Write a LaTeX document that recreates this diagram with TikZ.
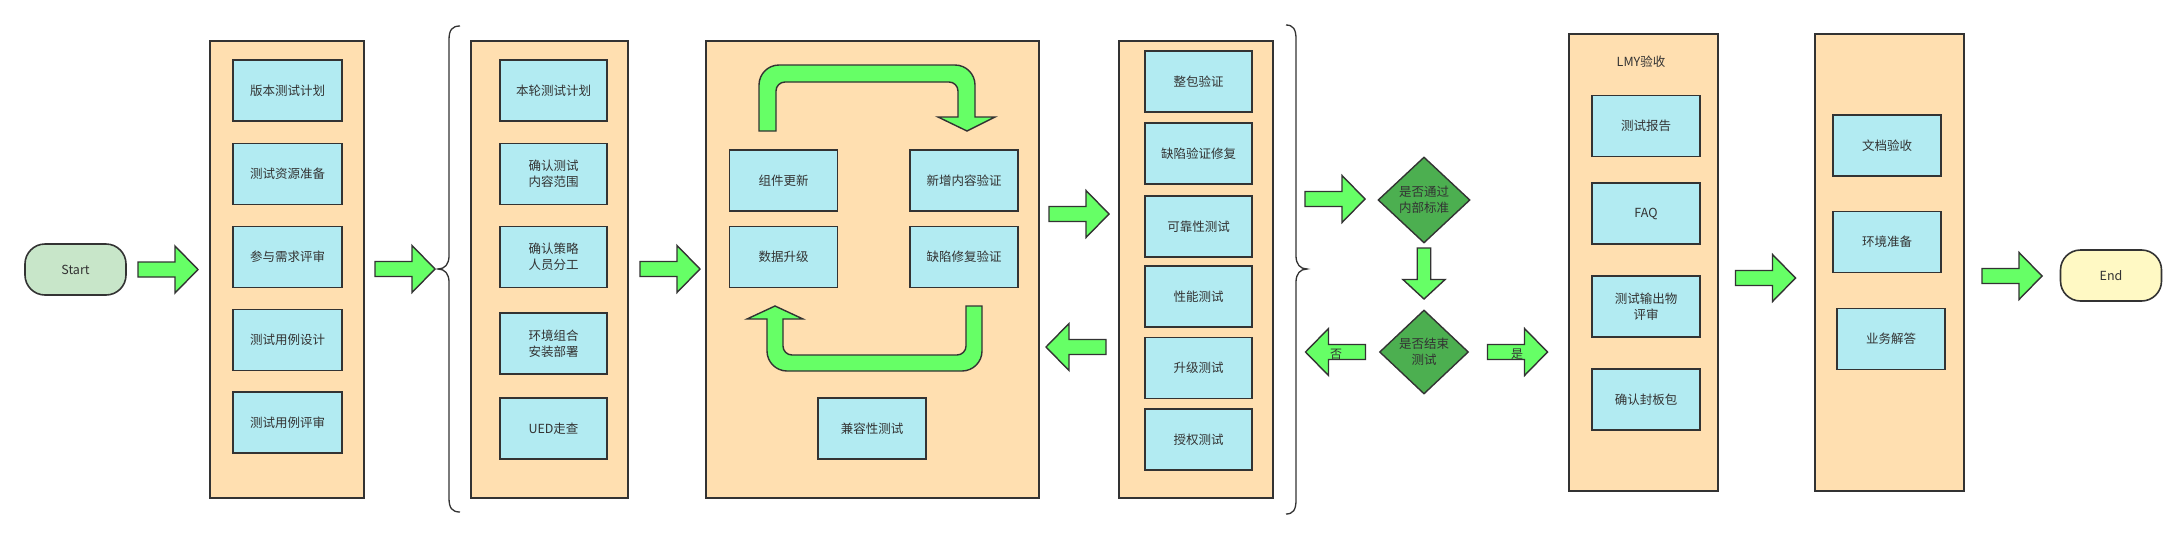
\documentclass[tikz,border=0pt]{standalone}
\usepackage{fontspec}
\setmainfont{Noto Sans CJK SC}
\usetikzlibrary{shapes.geometric}
\definecolor{peach}{HTML}{FFDFB0}
\definecolor{cyanbox}{HTML}{B2EBF2}
\definecolor{agreen}{HTML}{66FF66}
\definecolor{dgreen}{HTML}{4CAF50}
\definecolor{startc}{HTML}{C8E6C9}
\definecolor{endc}{HTML}{FFF9C4}
\definecolor{edge}{HTML}{333333}
\begin{document}
\begin{tikzpicture}[x=1pt,y=-1pt,
  txt/.style={font=\fontsize{12.5pt}{16pt}\selectfont, text=edge, align=center},
  col/.style={draw=edge, fill=peach, line width=1.6pt, inner sep=0pt},
  box/.style={txt, draw=edge, fill=cyanbox, line width=1.6pt, minimum width=108pt, minimum height=61pt, inner sep=0pt},
  term/.style={txt, draw=edge, line width=1.6pt, rounded corners=20pt, minimum width=101pt, minimum height=51pt, inner sep=0pt},
  decide/.style={txt, diamond, draw=edge, fill=dgreen, line width=1.4pt, inner sep=0pt},
  brace/.style={draw=edge, line width=1.3pt},
  garrow/.style={draw=edge, fill=agreen, line width=1.4pt, line join=miter},
  blockarrow/.pic={\draw[garrow] (-30,-7.5) -- (7,-7.5) -- (7,-23.5) -- (30,0) -- (7,23.5) -- (7,7.5) -- (-30,7.5) -- cycle;}
]
\useasboundingbox (0,0) rectangle (2181,536);
\fill[white] (0,0) rectangle (2181,536);

% start
\node[term, fill=startc] (start) at (75.5,269.5) {Start};
\pic (a1) at (168,269.5) {blockarrow};

% column 1
\node[col, minimum width=154pt, minimum height=457pt] (c1) at (287,269.5) {};
\node[box, minimum width=109pt] (b11) at (287.5,90.5) {版本测试计划};
\node[box, minimum width=109pt] (b12) at (287.5,174) {测试资源准备};
\node[box, minimum width=109pt] (b13) at (287.5,257) {参与需求评审};
\node[box, minimum width=109pt] (b14) at (287.5,340) {测试用例设计};
\node[box, minimum width=109pt] (b15) at (287.5,422.5) {测试用例评审};
\pic (a2) at (405,269) {blockarrow};

% left brace
\draw[brace] (460,26) .. controls (452,26) and (449,30) .. (449,40) -- (449,256) .. controls (449,264) and (445,269) .. (438,269) .. controls (445,269) and (449,274) .. (449,282) -- (449,498) .. controls (449,508) and (452,512) .. (460,512);

% column 2
\node[col, minimum width=157pt, minimum height=457pt] (c2) at (549.5,269.5) {};
\node[box, minimum width=107pt] (b21) at (553.5,90.5) {本轮测试计划};
\node[box, minimum width=107pt] (b22) at (553.5,174) {确认测试\\内容范围};
\node[box, minimum width=107pt] (b23) at (553.5,257) {确认策略\\人员分工};
\node[box, minimum width=107pt] (b24) at (553.5,343.5) {环境组合\\安装部署};
\node[box, minimum width=107pt] (b25) at (553.5,428.5) {UED走查};
\pic (a3) at (670,269) {blockarrow};

% column 3
\node[col, minimum width=333pt, minimum height=457pt] (c3) at (872.5,269.5) {};
\node[box] (b31) at (783.5,180.5) {组件更新};
\node[box] (b32) at (964,180.5) {新增内容验证};
\node[box] (b33) at (783.5,257) {数据升级};
\node[box] (b34) at (964,257) {缺陷修复验证};
\node[box] (b35) at (872,428.5) {兼容性测试};
% loop arrows
\draw[garrow] (759,131) -- (759,85) .. controls (759,74) and (768,65) .. (779,65) -- (955,65) .. controls (966,65) and (975,74) .. (975,85) -- (975,117) -- (995,117) -- (967,131) -- (938,117) -- (958,117) -- (958,91) .. controls (958,86) and (954,82) .. (949,82) -- (785,82) .. controls (780,82) and (776,86) .. (776,91) -- (776,131) -- cycle;
\draw[garrow] (966,306) -- (982,306) -- (982,351) .. controls (982,362) and (973,371) .. (962,371) -- (787,371) .. controls (776,371) and (767,362) .. (767,351) -- (767,319) -- (747,319) -- (775,306) -- (803,319) -- (783,319) -- (783,346) .. controls (783,351) and (787,355) .. (792,355) -- (957,355) .. controls (962,355) and (966,351) .. (966,346) -- cycle;

\pic (a4) at (1079,214) {blockarrow};
\pic[rotate=180] (a5) at (1076,347) {blockarrow};

% column 4
\node[col, minimum width=154pt, minimum height=457pt] (c4) at (1196,269.5) {};
\node[box, minimum width=107pt] (b41) at (1198.5,81.5) {整包验证};
\node[box, minimum width=107pt] (b42) at (1198.5,153.5) {缺陷验证修复};
\node[box, minimum width=107pt] (b43) at (1198.5,226.5) {可靠性测试};
\node[box, minimum width=107pt] (b44) at (1198.5,296.5) {性能测试};
\node[box, minimum width=107pt] (b45) at (1198.5,368) {升级测试};
\node[box, minimum width=107pt] (b46) at (1198.5,439.5) {授权测试};

% right brace
\draw[brace] (1286,25) .. controls (1293,25) and (1296,29) .. (1296,39) -- (1296,256) .. controls (1296,264) and (1300,269) .. (1307,269) .. controls (1300,269) and (1296,274) .. (1296,282) -- (1296,500) .. controls (1296,510) and (1293,514) .. (1286,514);

% decisions
\pic (a6) at (1335,199) {blockarrow};
\node[decide, minimum width=92pt, minimum height=86pt] (d1) at (1424,200) {是否通过\\内部标准};
\pic[rotate=-90, xscale=0.85, yscale=0.9] (a7) at (1424,273.5) {blockarrow};
\node[decide, minimum width=89pt, minimum height=84pt] (d2) at (1424,352) {是否结束\\测试};
\pic[rotate=180] (a8) at (1335.5,352) {blockarrow};
\node[txt, font=\fontsize{12pt}{14pt}\selectfont] (no) at (1336,354) {否};
\pic (a9) at (1517.5,352) {blockarrow};
\node[txt, font=\fontsize{12pt}{14pt}\selectfont] (yes) at (1517,354) {是};

% column 5
\node[col, minimum width=149pt, minimum height=457pt] (c5) at (1643.5,262.5) {};
\node[txt] (lmy) at (1641,62) {LMY验收};
\node[box] (b51) at (1646,126) {测试报告};
\node[box] (b52) at (1646,213.5) {FAQ};
\node[box] (b53) at (1646,306.5) {测试输出物\\评审};
\node[box] (b54) at (1646,399.5) {确认封板包};
\pic (a10) at (1765.5,278) {blockarrow};

% column 6
\node[col, minimum width=149pt, minimum height=457pt] (c6) at (1889.5,262.5) {};
\node[box] (b61) at (1887,145.5) {文档验收};
\node[box] (b62) at (1887,242) {环境准备};
\node[box] (b63) at (1891,339) {业务解答};
\pic (a11) at (2012,276) {blockarrow};

% end
\node[term, fill=endc] (end) at (2111,275.5) {End};
\end{tikzpicture}
\end{document}
